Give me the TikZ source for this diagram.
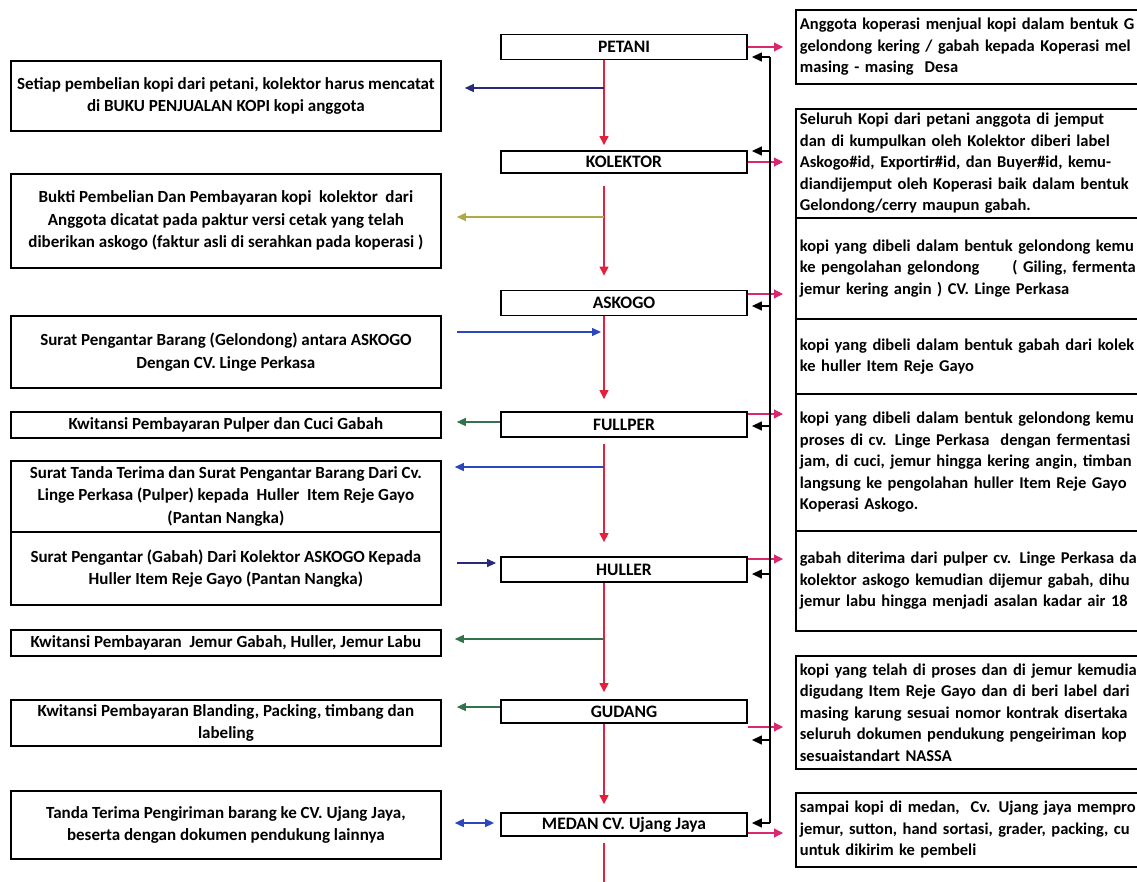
\documentclass[tikz,border=0pt]{standalone}
\usepackage{fontspec}
\setmainfont{Carlito}
\usepackage{xcolor}
\usetikzlibrary{arrows.meta,positioning}
\definecolor{flowred}{RGB}{228,32,62}
\definecolor{outpink}{RGB}{218,40,112}
\definecolor{docnavy}{RGB}{40,40,125}
\definecolor{docolive}{RGB}{175,170,70}
\definecolor{docblue}{RGB}{45,70,185}
\definecolor{docgreen}{RGB}{50,115,75}
\tikzset{
  stage/.style={rectangle,draw=black,line width=1.8pt,minimum width=246pt,minimum height=25pt,inner sep=0pt,font=\fontsize{17.5}{20}\selectfont\bfseries},
  docbox/.style={rectangle,draw=black,line width=1.8pt,anchor=north west,minimum width=430pt,inner sep=0pt,align=center,font=\fontsize{17}{22.5}\selectfont\bfseries},
  notebox/.style={rectangle,draw=black,line width=1.8pt,anchor=north west,text width=470pt,inner xsep=4pt,inner ysep=0pt,align=left,font=\fontsize{16.5}{21.5}\selectfont\bfseries},
  flowedge/.style={line width=1.1pt,flowred,-{Triangle[length=9pt,width=9pt]}},
  outedge/.style={line width=1.1pt,outpink,-{Triangle[length=9pt,width=9pt]}},
  backedge/.style={line width=1.3pt,black,-{Triangle[length=10pt,width=9pt]}},
  bus/.style={line width=1.5pt,black},
  docedge/.style={line width=1.3pt,-{Triangle[length=9pt,width=8pt]}}
}

\begin{document}
\begin{tikzpicture}[x=1pt,y=-1pt]
  \useasboundingbox (0,0) rectangle (1137,881);
  \clip (0,0) rectangle (1137,881);
  \coordinate (spine) at (604,0);
  \coordinate (bus) at (770,0);
  \coordinate (bustop) at (770,57);
  \coordinate (busbot) at (770,823);
  \coordinate (exit) at (604,900);
  % stages
  \node[stage] (petani) at (624,47) {PETANI};
  \node[stage,minimum height=22pt] (kolektor) at (624,162) {KOLEKTOR};
  \node[stage] (askogo) at (624,303) {ASKOGO};
  \node[stage] (fullper) at (624,424.5) {FULLPER};
  \node[stage] (huller) at (624,569.5) {HULLER};
  \node[stage,minimum height=23pt] (gudang) at (624,711.5) {GUDANG};
  \node[stage,minimum height=23pt] (medan) at (624,824.5) {MEDAN CV. Ujang Jaya};
  % documents
  \node[docbox,minimum height=70pt] (d1) at (10,60) {Setiap pembelian kopi dari petani, kolektor harus mencatat\\di BUKU PENJUALAN KOPI kopi anggota};
  \node[docbox,minimum height=94pt] (d2) at (10,173) {Bukti Pembelian Dan Pembayaran kopi\ \ kolektor\ \ dari\\Anggota dicatat pada paktur versi cetak yang telah\\diberikan askogo (faktur asli di serahkan pada koperasi )};
  \node[docbox,minimum height=72pt] (d3) at (10,315) {Surat Pengantar Barang (Gelondong) antara ASKOGO\\Dengan CV. Linge Perkasa};
  \node[docbox,minimum height=26pt] (d4) at (10,411) {Kwitansi Pembayaran Pulper dan Cuci Gabah};
  \node[docbox,minimum height=71pt] (d5) at (10,460) {Surat Tanda Terima dan Surat Pengantar Barang Dari Cv.\\Linge Perkasa (Pulper) kepada\ \ Huller\ \ Item Reje Gayo\\(Pantan Nangka)};
  \node[docbox,minimum height=73pt] (d6) at (10,531) {Surat Pengantar (Gabah) Dari Kolektor ASKOGO Kepada\\Huller Item Reje Gayo (Pantan Nangka)};
  \node[docbox,minimum height=26pt] (d7) at (10,629) {Kwitansi Pembayaran\ \ Jemur Gabah, Huller, Jemur Labu};
  \node[docbox,minimum height=46pt] (d8) at (10,699) {Kwitansi Pembayaran Blanding, Packing, timbang dan\\labeling};
  \node[docbox,minimum height=68pt] (d9) at (10,790) {Tanda Terima Pengiriman barang ke CV. Ujang Jaya,\\beserta dengan dokumen pendukung lainnya};
  % notes
  \node[notebox,minimum height=74pt] (n1) at (795,9) {Anggota koperasi menjual kopi dalam bentuk G\\gelondong kering / gabah kepada Koperasi mel\\masing - masing\ \ Desa};
  \node[notebox,minimum height=109pt] (n2) at (795,108) {Seluruh Kopi dari petani anggota di jemput\\dan di kumpulkan oleh Kolektor diberi label\\Askogo\#id, Exportir\#id, dan Buyer\#id, kemu-\\diandijemput oleh Koperasi baik dalam bentuk\\Gelondong/cerry maupun gabah.};
  \node[notebox,minimum height=101pt] (n3) at (795,217) {kopi yang dibeli dalam bentuk gelondong kemu\\ke pengolahan gelondong\qquad ( Giling, fermenta\\jemur kering angin ) CV. Linge Perkasa};
  \node[notebox,minimum height=75pt] (n4) at (795,318) {kopi yang dibeli dalam bentuk gabah dari kolek\\ke huller Item Reje Gayo};
  \node[notebox,minimum height=137pt] (n5) at (795,393) {kopi yang dibeli dalam bentuk gelondong kemu\\proses di cv. Linge Perkasa\ \ dengan fermentasi\\jam, di cuci, jemur hingga kering angin, timban\\langsung ke pengolahan huller Item Reje Gayo\\Koperasi Askogo.};
  \node[notebox,minimum height=100pt] (n6) at (795,530) {gabah diterima dari pulper cv. Linge Perkasa da\\kolektor askogo kemudian dijemur gabah, dihu\\jemur labu hingga menjadi asalan kadar air 18};
  \node[notebox,minimum height=113pt] (n7) at (795,655) {kopi yang telah di proses dan di jemur kemudia\\digudang Item Reje Gayo dan di beri label dari\\masing karung sesuai nomor kontrak disertaka\\seluruh dokumen pendukung pengeiriman kop\\sesuaistandart NASSA};
  \node[notebox,minimum height=74pt] (n8) at (795,792) {sampai kopi di medan,\ \ Cv. Ujang jaya mempro\\jemur, sutton, hand sortasi, grader, packing, cu\\untuk dikirim ke pembeli};
  % main flow
  \draw[flowedge,shorten >=5pt] (petani.south -| spine) -- (kolektor.north -| spine);
  \draw[flowedge,shorten <=12pt,shorten >=14pt] (kolektor.south -| spine) -- (askogo.north -| spine);
  \draw[flowedge,shorten >=12pt] (askogo.south -| spine) -- (fullper.north -| spine);
  \draw[flowedge,shorten <=6pt,shorten >=14pt] (fullper.south -| spine) -- (huller.north -| spine);
  \draw[flowedge,shorten >=7pt] (huller.south -| spine) -- (gudang.north -| spine);
  \draw[flowedge,shorten >=8pt] (gudang.south -| spine) -- (medan.north -| spine);
  \draw[flowedge,shorten <=6pt] (medan.south -| spine) -- (exit);
  % to the notes
  \draw[outedge,shorten >=12pt] (petani.east |- 0,47) -- (n1.west |- 0,47);
  \draw[outedge,shorten >=12pt] (kolektor.east |- 0,162) -- (n2.west |- 0,162);
  \draw[outedge,shorten >=12pt] (askogo.east |- 0,294) -- (n3.west |- 0,294);
  \draw[outedge,shorten >=12pt] (fullper.east |- 0,414) -- (n5.west |- 0,414);
  \draw[outedge,shorten >=12pt] (huller.east |- 0,559) -- (n6.west |- 0,559);
  \draw[outedge,shorten >=12pt] (gudang.east |- 0,727) -- (n7.west |- 0,727);
  \draw[outedge,shorten >=12pt] (medan.east |- 0,833) -- (n8.west |- 0,833);
  % return line
  \draw[bus] (bustop) -- (busbot);
  \draw[backedge,shorten >=4pt] (bustop) -- (petani.east |- bustop);
  \draw[backedge,shorten >=4pt] (bus |- 0,151) -- (kolektor.east |- 0,151);
  \draw[backedge,shorten >=4pt] (bus |- 0,306) -- (askogo.east |- 0,306);
  \draw[backedge,shorten >=4pt] (bus |- 0,426) -- (fullper.east |- 0,426);
  \draw[backedge,shorten >=4pt] (bus |- 0,574) -- (huller.east |- 0,574);
  \draw[backedge,shorten >=4pt] (bus |- 0,740) -- (gudang.east |- 0,740);
  \draw[backedge,shorten >=4pt] (busbot) -- (medan.east |- busbot);
  % documents
  \draw[docedge,docnavy,shorten >=23pt] (spine |- 0,88) -- (d1.east |- 0,88);
  \draw[docedge,docolive,shorten >=15pt] (spine |- 0,217) -- (d2.east |- 0,217);
  \draw[docedge,docblue,shorten <=15pt,shorten >=3pt] (d3.east |- 0,332) -- (spine |- 0,332);
  \draw[docedge,docgreen,shorten >=15pt] (fullper.west |- 0,422) -- (d4.east |- 0,422);
  \draw[docedge,docblue,shorten >=13pt] (spine |- 0,467) -- (d5.east |- 0,467);
  \draw[docedge,docnavy,shorten <=15pt,shorten >=4pt] (d6.east |- 0,563) -- (huller.west |- 0,563);
  \draw[docedge,docgreen,shorten >=13pt] (spine |- 0,639) -- (d7.east |- 0,639);
  \draw[docedge,docgreen,shorten >=15pt] (gudang.west |- 0,707) -- (d8.east |- 0,707);
  \draw[docedge,docblue,{Triangle[length=9pt,width=8pt]}-{Triangle[length=9pt,width=8pt]},shorten <=13pt,shorten >=6pt] (d9.east |- 0,823) -- (medan.west |- 0,823);
\end{tikzpicture}
\end{document}
